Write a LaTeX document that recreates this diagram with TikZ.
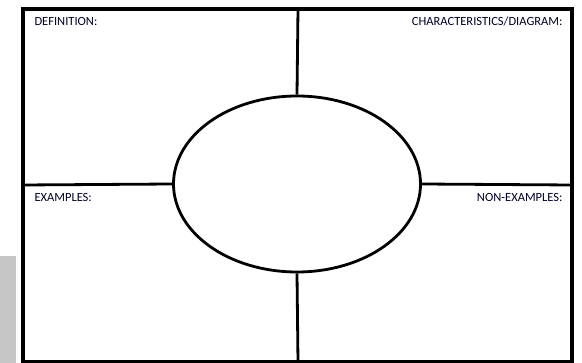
\documentclass[tikz,border=0pt]{standalone}
\usepackage{fontspec}
\setmainfont{Carlito}
\usetikzlibrary{shapes.geometric}
\begin{document}
\begin{tikzpicture}[x=1pt, y=-1pt, every node/.style={font=\fontsize{12.5}{14}\selectfont, text=black!85!blue},
  frame/.style={line width=3.5pt},
  rule/.style={line width=2.8pt}]
  \useasboundingbox (0,0) rectangle (582,363);
  \fill[gray!45] (0,256) rectangle (16,363);
  \coordinate (NW) at (23,9); \coordinate (NE) at (572,9);
  \coordinate (SW) at (23,362); \coordinate (SE) at (572,362);
  \coordinate (T) at (298,9); \coordinate (B) at (298,362);
  \coordinate (L) at (23,185); \coordinate (R) at (572,185);
  \draw[frame] (NW)--(NE)--(SE)--(SW)--cycle;
  \node[ellipse, draw, rule, fill=white, minimum width=247pt, minimum height=176pt, inner sep=0pt] (oval) at (297,184) {};
  \draw[rule] (T)--(oval.north) (oval.south)--(B);
  \draw[rule] (L)--(oval.west) (oval.east)--(R);
  \node[anchor=base west] (def) at (31,26) {DEFINITION:};
  \node[anchor=base east] (char) at (566,26) {CHARACTERISTICS/DIAGRAM:};
  \node[anchor=base west] (ex) at (31,202) {EXAMPLES:};
  \node[anchor=base east] (nonex) at (566,202) {NON-EXAMPLES:};
\end{tikzpicture}
\end{document}
